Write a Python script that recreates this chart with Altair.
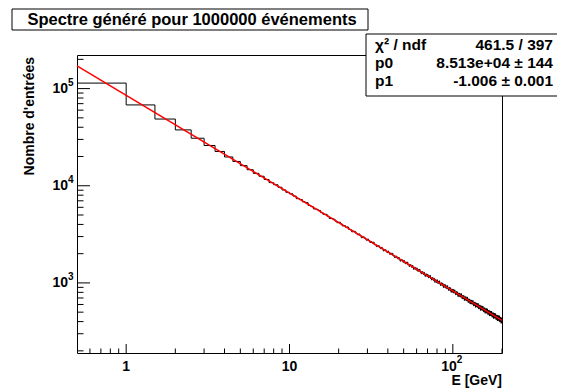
import altair as alt
import pandas as pd

TITLE = "Spectre généré pour 1000000 événements"
X_TITLE = "E [GeV]"
Y_TITLE = "Nombre d'entrées"
FONT = "Liberation Sans"

# histogram binning
E_MIN, E_MAX, N_BINS = 0.5, 200.0, 399

# bin contents (bins of 0.5 GeV)
counts_0_10 = [113900, 67900, 48600, 37580, 30850, 25960, 22540, 19790, 17790, 16110,
               14620, 13420, 12530, 11600, 10770, 10240, 9650, 9060, 8560, 8260]
counts_10_30 = [7834, 7366, 7210, 6829, 6698, 6272, 6105, 5774, 5724, 5566,
                5288, 5087, 5082, 4852, 4604, 4618, 4521, 4325, 4169, 4212,
                4048, 3864, 3892, 3744, 3764, 3551, 3523, 3362, 3409, 3365,
                3219, 3130, 3187, 3063, 2919, 2981, 2951, 2836, 2751, 2826]
counts_30_50 = [2728, 2611, 2667, 2575, 2621, 2472, 2475, 2365, 2428, 2413,
                2312, 2255, 2325, 2236, 2132, 2201, 2191, 2108, 2049, 2127,
                2057, 1969, 2030, 1961, 2013, 1894, 1907, 1820, 1885, 1882,
                1801, 1761, 1830, 1761, 1675, 1745, 1743, 1676, 1631, 1708]
counts_50_70 = [1650, 1578, 1639, 1583, 1636, 1533, 1550, 1477, 1541, 1543,
                1475, 1443, 1510, 1451, 1378, 1445, 1448, 1391, 1353, 1427,
                1378, 1315, 1375, 1327, 1378, 1288, 1306, 1242, 1304, 1308,
                1248, 1221, 1286, 1234, 1169, 1234, 1239, 1188, 1156, 1226]
counts_70_90 = [1183, 1127, 1184, 1142, 1191, 1109, 1128, 1071, 1130, 1135,
                1082, 1058, 1120, 1074, 1014, 1076, 1082, 1037, 1008, 1075,
                1037, 985, 1040, 1002, 1050, 974, 993, 941, 997, 1003,
                954, 933, 993, 950, 895, 954, 962, 919, 893, 957]
counts_90_110 = [922, 875, 927, 892, 938, 867, 887, 837, 892, 899,
                 853, 834, 891, 852, 801, 857, 865, 826, 801, 864,
                 831, 786, 837, 804, 848, 782, 801, 755, 807, 815,
                 772, 754, 809, 772, 723, 778, 786, 749, 727, 786]
counts_110_130 = [755, 714, 762, 732, 775, 712, 730, 686, 737, 745,
                  704, 688, 741, 706, 660, 713, 720, 686, 665, 722,
                  693, 654, 700, 671, 713, 653, 671, 629, 678, 686,
                  647, 632, 683, 650, 607, 657, 665, 632, 612, 667]
counts_130_150 = [640, 602, 647, 620, 660, 603, 621, 581, 628, 636,
                  599, 584, 634, 602, 561, 610, 618, 586, 567, 621,
                  594, 559, 602, 576, 615, 560, 577, 539, 585, 593,
                  557, 543, 591, 561, 521, 569, 577, 546, 528, 580]
counts_150_170 = [555, 520, 563, 538, 576, 523, 540, 503, 548, 555,
                  521, 508, 554, 525, 487, 533, 541, 512, 494, 545,
                  520, 488, 528, 504, 541, 490, 506, 471, 514, 522,
                  489, 477, 522, 494, 457, 502, 509, 481, 464, 514]
counts_170_190 = [490, 458, 498, 475, 510, 461, 477, 443, 485, 493,
                  461, 449, 493, 466, 430, 474, 481, 454, 438, 486,
                  463, 432, 471, 449, 483, 435, 451, 418, 459, 466,
                  436, 424, 467, 441, 406, 449, 456, 430, 414, 461]
counts_190_200 = [439, 408, 447, 425, 459, 412, 428, 396, 436, 443,
                  413, 402, 444, 418, 384, 426, 434, 408, 392]

counts = (counts_0_10 + counts_10_30 + counts_30_50 + counts_50_70 + counts_70_90
          + counts_90_110 + counts_110_130 + counts_130_150 + counts_150_170
          + counts_170_190 + counts_190_200)

# fitted power law (straight on log-log): end points
fit_E = [0.5, 200.0]
fit_N = [171600, 412]

stats_names = ["χ² / ndf", "p0", "p1"]
stats_values = ["461.5 / 397", "8.513e+04 ± 144", "-1.006 ± 0.001"]

x_major = [1, 10, 100]
x_minor = [0.6, 0.7, 0.8, 0.9, 2, 3, 4, 5, 6, 7, 8, 9,
           20, 30, 40, 50, 60, 70, 80, 90, 200]
y_major = [1000, 10000, 100000]
y_minor = [200, 300, 400, 500, 600, 700, 800, 900,
           2000, 3000, 4000, 5000, 6000, 7000, 8000, 9000,
           20000, 30000, 40000, 50000, 60000, 70000, 80000, 90000, 200000]
y_exponents = ["3", "4", "5"]

W, H = 425, 298
Y_DOMAIN = [190, 221700]

xs = alt.Scale(type="log", domain=[E_MIN, E_MAX], nice=False)
ys = alt.Scale(type="log", domain=Y_DOMAIN, nice=False)

width_bin = (E_MAX - E_MIN) / N_BINS
edges = [E_MIN + i * width_bin for i in range(N_BINS)] + [E_MAX]
hist_df = pd.DataFrame({"E": edges, "N": counts + [counts[-1]]})
fit_df = pd.DataFrame({"E": fit_E, "N": fit_N})

hist = alt.Chart(hist_df).mark_line(interpolate="step-after", color="black", strokeWidth=1).encode(
    x=alt.X("E:Q", scale=xs, axis=None),
    y=alt.Y("N:Q", scale=ys, axis=None),
)
fit = alt.Chart(fit_df).mark_line(color="#ff0000", strokeWidth=1.5).encode(
    x=alt.X("E:Q", scale=xs, axis=None),
    y=alt.Y("N:Q", scale=ys, axis=None),
)

def xticks(vals, length):
    return alt.Chart(pd.DataFrame({"v": vals})).mark_rule(color="black", strokeWidth=1).encode(
        x=alt.X("v:Q", scale=xs, axis=None),
        y=alt.value(H),
        y2=alt.value(H - length),
    )

def yticks(vals, length):
    return alt.Chart(pd.DataFrame({"v": vals})).mark_rule(color="black", strokeWidth=1).encode(
        y=alt.Y("v:Q", scale=ys, axis=None),
        x=alt.value(0),
        x2=alt.value(length),
    )

one = pd.DataFrame({"a": [0]})

def label(text, x, y, size=14, align="center", angle=0, weight="bold"):
    return alt.Chart(one).mark_text(
        text=text, font=FONT, fontSize=size, fontWeight=weight, align=align,
        baseline="middle", angle=angle, color="black",
    ).encode(x=alt.value(x), y=alt.value(y))

def box(x1, x2, y1, y2):
    return alt.Chart(one).mark_rect(fill="white", stroke="black", strokeWidth=1).encode(
        x=alt.value(x1), x2=alt.value(x2), y=alt.value(y1), y2=alt.value(y2)
    )

XLAB_Y = 312
# x tick labels
xlab_df = pd.DataFrame({"v": x_major[:2], "t": ["1", "10"]})
xlab = alt.Chart(xlab_df).mark_text(font=FONT, fontSize=14, fontWeight="bold", baseline="middle").encode(
    x=alt.X("v:Q", scale=xs, axis=None), y=alt.value(XLAB_Y), text="t:N")
x100_df = pd.DataFrame({"v": [x_major[2]], "t": ["10"], "e": ["2"]})
x100 = alt.Chart(x100_df).mark_text(font=FONT, fontSize=14, fontWeight="bold", baseline="middle",
                                    align="right", dx=4).encode(
    x=alt.X("v:Q", scale=xs, axis=None), y=alt.value(XLAB_Y), text="t:N")
x100e = alt.Chart(x100_df).mark_text(font=FONT, fontSize=10, fontWeight="bold", baseline="middle",
                                     align="left", dx=4, dy=-7).encode(
    x=alt.X("v:Q", scale=xs, axis=None), y=alt.value(XLAB_Y), text="e:N")

ylab_df = pd.DataFrame({"v": y_major, "t": ["10"] * 3, "e": y_exponents})
ylab = alt.Chart(ylab_df).mark_text(font=FONT, fontSize=14, fontWeight="bold", baseline="middle",
                                    align="right").encode(
    y=alt.Y("v:Q", scale=ys, axis=None), x=alt.value(-9), text="t:N")
ylabe = alt.Chart(ylab_df).mark_text(font=FONT, fontSize=10, fontWeight="bold", baseline="middle",
                                     align="left", dy=-6).encode(
    y=alt.Y("v:Q", scale=ys, axis=None), x=alt.value(-9), text="e:N")

layers = [
    hist, fit,
    xticks(x_major, 9), xticks(x_minor, 4.5),
    yticks(y_major, 13), yticks(y_minor, 6.5),
    xlab, x100, x100e, ylab, ylabe,
    label(X_TITLE, W, 326, align="right"),
    label(Y_TITLE, -47, 2, align="right", angle=270),
    box(-65, 291, -46, -25),
    label(TITLE, 115, -35, size=16.5),
    box(289, 482, -21, 41),
]
row_y = [-10, 8, 26]
for name, val, yy in zip(stats_names, stats_values, row_y):
    layers.append(label(name, 298, yy, size=15.5, align="left"))
    layers.append(label(val, 476, yy, size=15.5, align="right"))

chart = alt.layer(*layers).properties(
    width=W, height=H,
    autosize=alt.AutoSizeParams(type="none"),
    padding={"left": 69, "top": 47, "right": 55, "bottom": 37},
    background="white",
).configure_view(stroke="black", strokeWidth=1)

chart.save("out.html", embed_options={"renderer": "svg", "actions": False})
